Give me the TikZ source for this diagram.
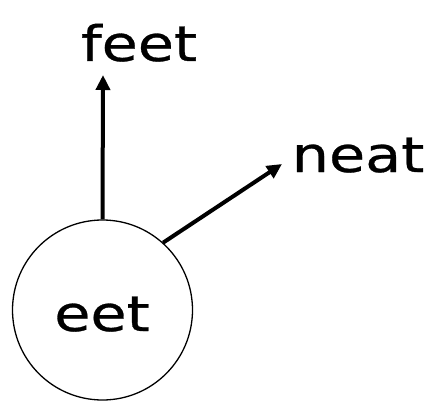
\documentclass[tikz,border=0pt]{standalone}
\usepackage{fontspec}
\setmainfont[FakeStretch=1.2,FakeBold=0.6]{DejaVu Sans}
\usetikzlibrary{arrows.meta}
\begin{document}
\begin{tikzpicture}[x=1pt,y=-1pt,
  lbl/.style={font=\fontsize{49}{58}\selectfont, inner sep=0pt, anchor=base},
  arr/.style={line width=4pt, -{Triangle[length=15pt,width=14pt]}}]
\useasboundingbox (0,0) rectangle (428,401);
\node[draw, circle, line width=1.3pt, minimum size=180pt, inner sep=0pt] (c) at (102.5,310) {};
\node[lbl] (eet) at (102,331) {eet};
\node[lbl] (feet) at (139,61) {feet};
\node[lbl] (neat) at (358,172) {neat};
\coordinate (ftip) at (103,75);
\coordinate (ntip) at (282,164);
\draw[arr] (c.north) -- (ftip);
\draw[arr] (c.48) -- (ntip);
\end{tikzpicture}
\end{document}
